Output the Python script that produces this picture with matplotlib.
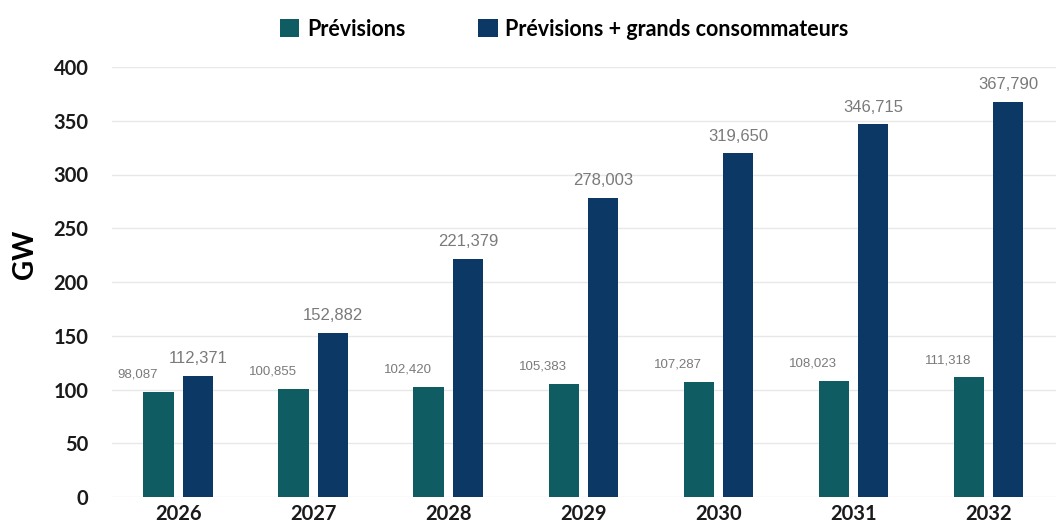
import matplotlib.pyplot as plt
import numpy as np

# data (values in MW, plotted as GW)
years = ['2026', '2027', '2028', '2029', '2030', '2031', '2032']
previsions = [98087, 100855, 102420, 105383, 107287, 108023, 111318]
previsions_gc = [112371, 152882, 221379, 278003, 319650, 346715, 367790]

teal = '#0f5d63'
navy = '#0b3865'
label_gray = '#7a7a7a'

fig = plt.figure(figsize=(10.56, 5.27), dpi=100)
ax = fig.add_axes([112 / 1056, 30 / 527, 944 / 1056, 430 / 527])

x = np.arange(len(years))
w = 0.225
off = 0.145
ax.bar(x - off, np.array(previsions) / 1000, w, color=teal, label='Prévisions', zorder=3)
ax.bar(x + off, np.array(previsions_gc) / 1000, w, color=navy,
       label='Prévisions + grands consommateurs', zorder=3)

# value labels
for i in range(len(years)):
    ax.annotate(f'{previsions[i]:,}', (x[i] - off, previsions[i] / 1000),
                xytext=(-15, 8), textcoords='offset points', ha='center', va='bottom',
                fontsize=9.5, color=label_gray, family='Liberation Sans')
    ax.annotate(f'{previsions_gc[i]:,}', (x[i] + off, previsions_gc[i] / 1000),
                xytext=(0, 7), textcoords='offset points', ha='center', va='bottom',
                fontsize=12, color=label_gray, family='Liberation Sans',
                annotation_clip=False)

ax.set_ylim(0, 400)
ax.set_yticks(np.arange(0, 401, 50))
ax.set_xlim(-0.49, 6.5)
ax.set_xticks(x)
ax.set_xticklabels(years)

for lab in ax.get_xticklabels() + ax.get_yticklabels():
    lab.set_fontweight('bold')
    lab.set_fontsize(14.5)
    lab.set_family('Lato')
    lab.set_color('#1a1a1a')

ax.set_ylabel('GW', fontsize=20, fontweight='bold', family='Lato')
ax.yaxis.set_label_coords(-0.078, 0.565)
ax.tick_params(axis='y', length=0, pad=17)
ax.tick_params(axis='x', length=0, pad=5)
ax.grid(axis='y', color='#e8e8e8', linewidth=1, zorder=0)
for s in ax.spines.values():
    s.set_visible(False)

leg = fig.legend(loc='center left', bbox_to_anchor=(280 / 1056, 1 - 29 / 527), ncol=2,
                 frameon=False, borderpad=0, borderaxespad=0,
                 handlelength=0.9, handleheight=0.9, columnspacing=3.4, handletextpad=0.35,
                 prop={'family': 'Lato', 'weight': 'bold', 'size': 15.5})

fig.savefig('out.png', dpi=100)
